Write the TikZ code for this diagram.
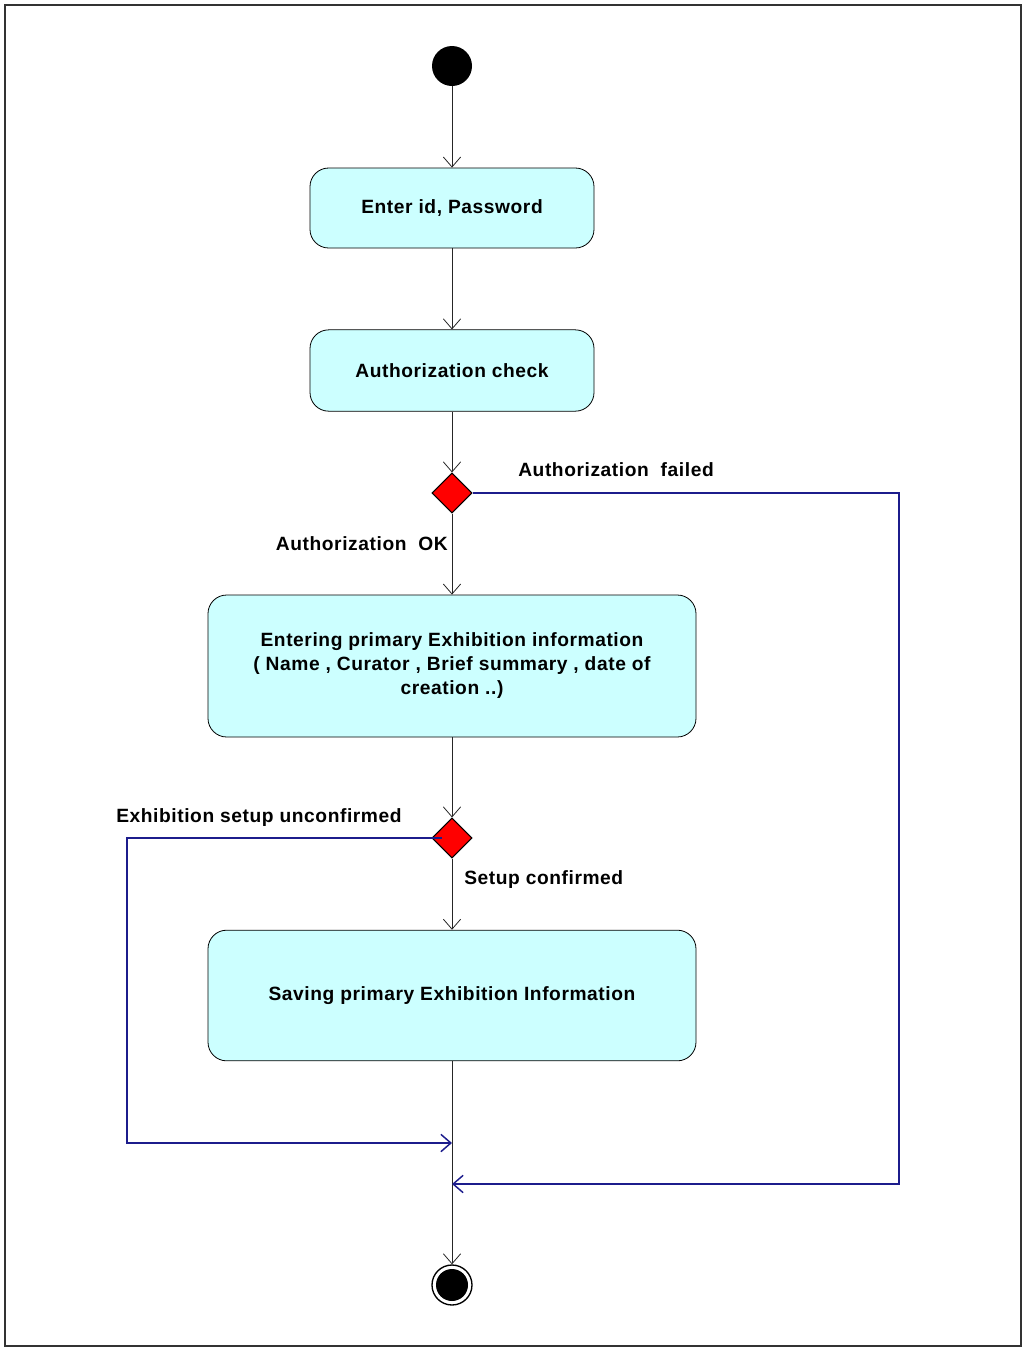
\documentclass[tikz,border=0pt]{standalone}
\usepackage{fontspec}
\setmainfont{Liberation Sans}
\newfontfamily\diagfont[LetterSpace=3]{Liberation Sans}
\usetikzlibrary{arrows.meta,shapes.geometric}
\definecolor{boxfill}{HTML}{CCFFFF}
\definecolor{flowblue}{HTML}{1C1C8C}
\begin{document}
\begin{tikzpicture}[x=0.75pt,y=-0.75pt,
  every node/.style={font=\diagfont\fontsize{14.4}{18}\selectfont\bfseries},
  actbox/.style={draw=black,fill=boxfill,rounded corners=14pt,line width=0.6pt,inner sep=0pt,align=center},
  decision/.style={diamond,draw=black,fill=red,minimum width=30pt,minimum height=30pt,inner sep=0pt,line width=0.8pt},
  flow/.style={draw=black!85,line width=0.6pt,-{Straight Barb[length=7.5pt,width=13pt]}},
  bflow/.style={draw=flowblue,line width=1.1pt,-{Straight Barb[length=7.5pt,width=13pt]}},
  lbl/.style={inner sep=0pt}]
\useasboundingbox (0,0) rectangle (1022,1347);
\draw[draw=black!80,line width=1pt] (5,5) rectangle (1021,1346);

\node[circle,fill=black,minimum size=30pt,inner sep=0pt] (start) at (452,66) {};
\node[actbox,minimum width=213pt,minimum height=60pt] (enter) at (452,208) {\raisebox{-1.5pt}{Enter id, Password}};
\node[actbox,minimum width=213pt,minimum height=61pt] (auth) at (452,370.5) {\raisebox{-1pt}{Authorization check}};
\node[decision] (d1) at (452,493) {};
\node[actbox,minimum width=366pt,minimum height=106.5pt] (entering) at (452,666)
  {\raisebox{-1.5pt}{\parbox{360pt}{\centering Entering primary Exhibition information\\( Name , Curator , Brief summary , date of\\creation ..)}}};
\node[decision] (d2) at (452,838) {};
\node[actbox,minimum width=366pt,minimum height=98pt] (saving) at (452,995.5) {\raisebox{-1.5pt}{Saving primary Exhibition Information}};
\node[circle,draw=black,line width=1pt,fill=white,minimum size=30pt,inner sep=0pt] (final) at (452,1285) {};
\node[circle,fill=black,minimum size=24pt,inner sep=0pt] at (final) {};

\coordinate (j1) at (452,1143);
\coordinate (j2) at (452,1184);
\coordinate (b1) at (127,838);
\coordinate (b2) at (127,1143);
\coordinate (r1) at (899,493);
\coordinate (r2) at (899,1184);

\draw[flow] (start) -- (enter);
\draw[flow] (enter) -- (auth);
\draw[flow] (auth) -- (d1.north);
\draw[flow] (d1.south) -- (entering);
\draw[flow] (entering) -- (d2.north);
\draw[flow] (d2.south) -- (saving);
\draw[flow] (saving) -- (final);

\draw[bflow] (d1.east) -- (r1) -- (r2) -- (j2);
\draw[bflow] ([xshift=-7.5pt]d2.center) -- (b1) -- (b2) -- (j1);

\node[lbl,anchor=west] (lfail) at (518,470) {Authorization\ \ failed};
\node[lbl,anchor=east] (lok) at (448,544) {Authorization\ \ OK};
\node[lbl,anchor=west] (lun) at (116,818) {Exhibition setup unconfirmed};
\node[lbl,anchor=west] (lconf) at (464,880) {Setup confirmed};
\end{tikzpicture}
\end{document}
